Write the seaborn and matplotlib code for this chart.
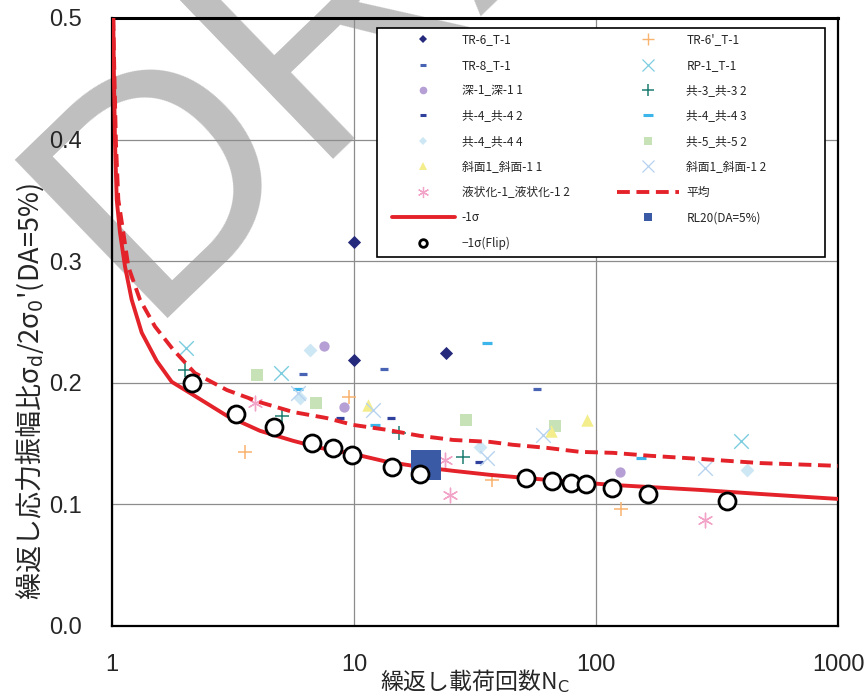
import matplotlib
matplotlib.use("Agg")
import matplotlib.pyplot as plt
from matplotlib.lines import Line2D
from matplotlib.patches import Rectangle
import seaborn as sns

# ---------------- data ----------------
# -1 sigma curve
sig_n = [1.012, 1.019, 1.029, 1.046, 1.079, 1.132, 1.206, 1.327, 1.530, 1.765,
         2.162, 2.987, 4.089, 5.60, 7.24, 9.9, 13.7, 18.7, 25.7, 36.5,
         62.7, 117.5, 269, 476, 1000]
sig_y = [0.500, 0.449, 0.3975, 0.3506, 0.3235, 0.2955, 0.2683, 0.2412, 0.218, 0.2008,
         0.1901, 0.1728, 0.1605, 0.1523, 0.1465, 0.1416, 0.135, 0.1309, 0.1276, 0.1243,
         0.1202, 0.116, 0.1119, 0.1086, 0.1045]
# mean curve
mean_n = [1.012, 1.024, 1.038, 1.062, 1.114, 1.168, 1.305, 1.505, 1.791, 2.20,
          2.987, 4.089, 5.60, 7.71, 9.9, 13.7, 18.7, 25.7, 36.5, 45.4,
          62.7, 85.9, 117.5, 167, 269, 476, 1000]
mean_y = [0.500, 0.449, 0.3975, 0.3506, 0.3235, 0.2955, 0.2683, 0.2463, 0.2272, 0.208,
          0.194, 0.184, 0.176, 0.171, 0.1654, 0.1613, 0.1564, 0.153, 0.1514, 0.149,
          0.1465, 0.1432, 0.1424, 0.140, 0.1374, 0.134, 0.1317]
# -1 sigma (Flip) points
flip_n = [2.135, 3.254, 4.671, 6.687, 8.189, 9.78, 14.31, 18.74, 51.4, 65.6,
          78.6, 90.9, 116.1, 163.3, 346.7]
flip_y = [0.1998, 0.1745, 0.164, 0.1509, 0.1463, 0.1407, 0.1311, 0.1251, 0.1216, 0.1193,
          0.1174, 0.1166, 0.1133, 0.1089, 0.1031]
rl20_n = [19.8]
rl20_y = [0.1325]

tr6_n = [10.0, 10.0, 24.0]
tr6_y = [0.316, 0.219, 0.2247]
tr6p_n = [3.55, 9.54, 37.2, 126.9]
tr6p_y = [0.143, 0.1885, 0.120, 0.0963]
tr8_n = [6.15, 13.3, 57.0]
tr8_y = [0.2074, 0.2115, 0.195]
rp1_n = [2.02, 4.99, 397]
rp1_y = [0.2288, 0.208, 0.152]
fuka_n = [7.52, 9.09, 125.7]
fuka_y = [0.2305, 0.180, 0.1267]
kyo3_n = [2.00, 5.04, 15.35, 28.2]
kyo3_y = [0.2107, 0.1728, 0.1588, 0.139]
kyo42_n = [8.75, 14.2, 32.9]
kyo42_y = [0.171, 0.171, 0.135]
kyo43_n = [5.87, 12.2, 35.4, 153.5]
kyo43_y = [0.195, 0.1654, 0.233, 0.138]
kyo44_n = [6.58, 5.98, 33.2, 421]
kyo44_y = [0.227, 0.1877, 0.1473, 0.128]
kyo5_n = [3.97, 6.97, 29.0, 67.7]
kyo5_y = [0.2066, 0.1835, 0.1695, 0.1646]
sha1_n = [11.4, 65.2, 91.8]
sha1_y = [0.182, 0.1605, 0.1695]
sha2_n = [5.87, 11.98, 35.4, 60.4, 282]
sha2_y = [0.1918, 0.1778, 0.138, 0.157, 0.130]
eki_n = [3.90, 23.8, 24.9, 282]
eki_y = [0.1835, 0.1366, 0.1078, 0.0872]

x_ticks = [1, 10, 100, 1000]
x_ticklabels = ["1", "10", "100", "1000"]
y_ticks = [0.0, 0.1, 0.2, 0.3, 0.4, 0.5]
y_ticklabels = ["0.0", "0.1", "0.2", "0.3", "0.4", "0.5"]

labels_left = ["TR-6_T-1", "TR-8_T-1", "深-1_深-1 1", "共-4_共-4 2", "共-4_共-4 4",
               "斜面1_斜面-1 1", "液状化-1_液状化-1 2", "-1σ", "−1σ(Flip)"]
labels_right = ["TR-6'_T-1", "RP-1_T-1", "共-3_共-3 2", "共-4_共-4 3", "共-5_共-5 2",
                "斜面1_斜面-1 2", "平均", "RL20(DA=5%)"]

# ---------------- styling ----------------
sns.set_theme(style="white")
plt.rcParams["font.family"] = ["Liberation Sans Narrow", "Liberation Sans", "DejaVu Sans"]
CJK = ["Noto Sans CJK JP", "DejaVu Sans"]

RED = "#e4222a"
C_NAVY = "#262a7c"
C_ORANGE = "#f8b36e"
C_BLUE = "#4862b4"
C_CYANX = "#7dcde0"
C_PURPLE = "#b59fd4"
C_TEAL = "#1c7d71"
C_NAVYDASH = "#2f419d"
C_CYANDASH = "#3cb6ea"
C_LCYAN = "#cde8f4"
C_LGREEN = "#c8e2b7"
C_YELLOW = "#f3ed8b"
C_PALEX = "#b7d3f0"
C_PINK = "#f2a4c8"
C_RL20 = "#3a5aa5"
ASTER = (6, 2, 0)

fig = plt.figure(figsize=(8.67, 6.99), dpi=100)
ax = fig.add_axes([112 / 867, 1 - 626 / 699, 726 / 867, 608 / 699])
ax.set_xscale("log")

# watermark
ax.text(141 / 867, 1 - 318 / 699, "DRAFT", transform=fig.transFigure, fontsize=230,
        color="#bfbfbf", rotation=44, rotation_mode="anchor", ha="left", va="baseline",
        family="Liberation Sans", zorder=0.3, clip_on=False)

def pts(xs, ys, marker, s, color, lw=1.0, z=3):
    sns.scatterplot(x=xs, y=ys, marker=marker, s=s, color=color, linewidth=lw,
                    edgecolor=color if marker in ("D", "o", "s", "^") else None,
                    ax=ax, legend=False, zorder=z)

pts(tr6_n, tr6_y, "D", 45, C_NAVY, 0)
pts(tr6p_n, tr6p_y, "+", 110, C_ORANGE, 1.1)
pts(tr8_n, tr8_y, "_", 30, C_BLUE, 2.3)
pts(rp1_n, rp1_y, "x", 110, C_CYANX, 1.0)
pts(fuka_n, fuka_y, "o", 55, C_PURPLE, 0)
pts(kyo3_n, kyo3_y, "+", 110, C_TEAL, 1.1)
pts(kyo42_n, kyo42_y, "_", 30, C_NAVYDASH, 2.3)
pts(kyo43_n, kyo43_y, "_", 60, C_CYANDASH, 2.3)
pts(kyo44_n, kyo44_y, "D", 50, C_LCYAN, 0)
pts(kyo5_n, kyo5_y, "s", 64, C_LGREEN, 0)
pts(sha1_n, sha1_y, "^", 80, C_YELLOW, 0)
pts(sha2_n, sha2_y, "x", 110, C_PALEX, 1.0)
pts(eki_n, eki_y, ASTER, 110, C_PINK, 1.0)

sns.lineplot(x=mean_n, y=mean_y, sort=False, estimator=None, color=RED, lw=2.8,
             linestyle=(0, (3.3, 1.7)), ax=ax, legend=False, zorder=4)
sns.lineplot(x=sig_n, y=sig_y, sort=False, estimator=None, color=RED, lw=2.8,
             ax=ax, legend=False, zorder=4)

sns.scatterplot(x=rl20_n, y=rl20_y, marker="s", s=440, color=C_RL20, linewidth=0,
                ax=ax, legend=False, zorder=5)
sns.scatterplot(x=flip_n, y=flip_y, marker="o", s=150, color="white", edgecolor="black",
                linewidth=2.0, ax=ax, legend=False, zorder=6)

# axes
ax.set_xlim(1, 1000)
ax.set_ylim(0, 0.5)
ax.set_xticks(x_ticks)
ax.set_xticklabels(x_ticklabels)
ax.set_yticks(y_ticks)
ax.set_yticklabels(y_ticklabels)
ax.minorticks_off()
ax.grid(True, which="major", color="#8c8c8c", lw=0.9)
ax.tick_params(axis="both", labelsize=17, length=0)
ax.tick_params(axis="x", pad=20)
ax.tick_params(axis="y", pad=22)
for sp in ax.spines.values():
    sp.set_color("black")
    sp.set_linewidth(1.6)
ax.spines["top"].set_linewidth(2.2)

ax.set_xlabel("繰返し載荷回数N$_\\mathrm{C}$", fontsize=16.5, family=CJK, labelpad=-6)
ax.set_ylabel("繰返し応力振幅比σ$_\\mathrm{d}$/2σ$_\\mathrm{0}$'(DA=5%)", fontsize=19.5,
              family=CJK)
ax.yaxis.set_label_coords(-0.091, 0.385)

# legend frame (box as drawn in the reference) + entries without own frame
ax.add_patch(Rectangle((0.365, 0.6069), 0.617, 0.3767, transform=ax.transAxes,
                       facecolor="white", edgecolor="black", lw=1.2, zorder=6.5))

def mk(marker, color, ms, mew=1.0, mfc=None, mec=None):
    return Line2D([], [], linestyle="none", marker=marker, markersize=ms,
                  markerfacecolor=mfc if mfc is not None else color,
                  markeredgecolor=mec if mec is not None else color, markeredgewidth=mew)

h_left = [mk("D", C_NAVY, 4.5, 0), mk("_", C_BLUE, 4.5, 2.2), mk("o", C_PURPLE, 5.5, 0),
          mk("_", C_NAVYDASH, 4.5, 2.2), mk("D", C_LCYAN, 4.5, 0), mk("^", C_YELLOW, 6, 0),
          mk(ASTER, C_PINK, 8, 0.9),
          Line2D([], [], color=RED, lw=2.8),
          mk("o", "black", 5.5, 2.0, mfc="white", mec="black")]
h_right = [mk("+", C_ORANGE, 8, 1.0), mk("x", C_CYANX, 8, 0.9), mk("+", C_TEAL, 8, 1.1),
           mk("_", C_CYANDASH, 7, 2.2), mk("s", C_LGREEN, 6, 0), mk("x", C_PALEX, 8, 0.9),
           Line2D([], [], color=RED, lw=2.8, linestyle=(0, (3.3, 1.7))),
           mk("s", C_RL20, 6, 0)]
leg = ax.legend(h_left + h_right, labels_left + labels_right, ncol=2,
                loc="upper left", bbox_to_anchor=(0.3784, 0.9836), borderaxespad=0,
                prop={"family": CJK, "size": 8.5}, frameon=False,
                handlelength=5.3, handletextpad=0.6,
                labelspacing=1.05, columnspacing=4.0, borderpad=0.45)
leg.set_zorder(7)

fig.savefig("out.png", dpi=100, facecolor="white")
